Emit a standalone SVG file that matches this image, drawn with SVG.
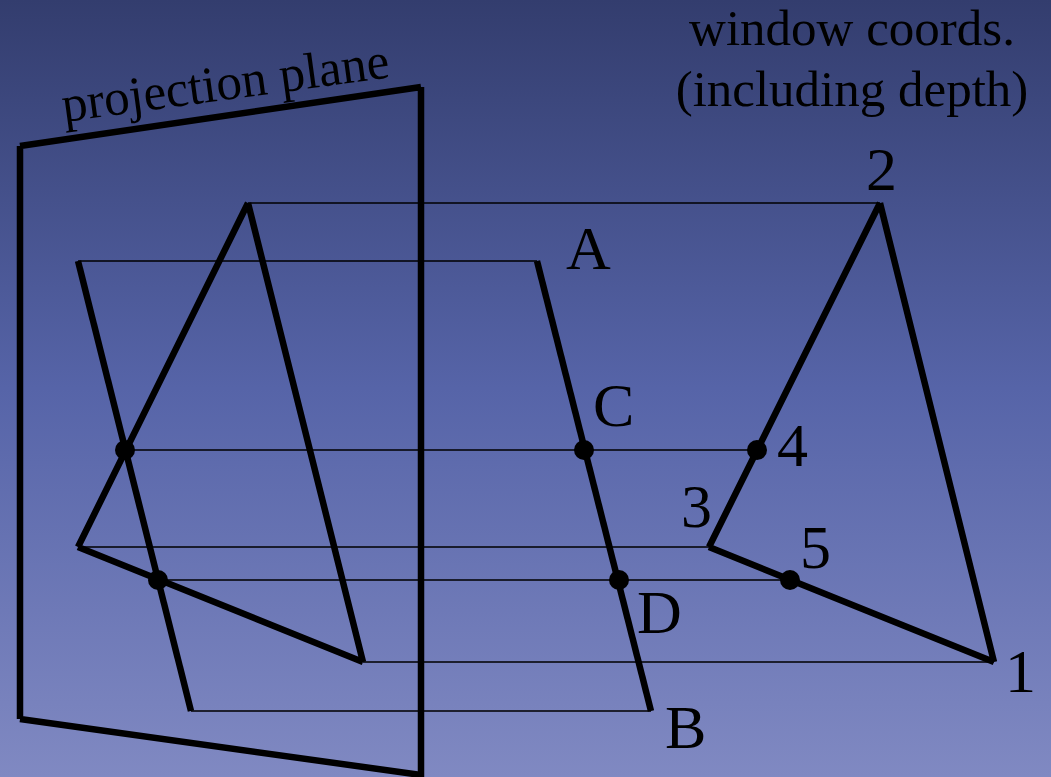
<svg xmlns="http://www.w3.org/2000/svg" width="1051" height="777" viewBox="0 0 1051 777">
<style>
.t{font-family:"Liberation Serif","Times New Roman",serif;font-size:62px;fill:#000}
.h{font-size:51px}
.thick{fill:none;stroke:#000;stroke-width:6.500px;stroke-linecap:butt}
.thin{fill:none;stroke:#000;stroke-width:1.5px}
</style>
<defs><linearGradient id="bg" x1="0" y1="0" x2="0" y2="1"><stop offset="0" stop-color="#333d6e"/><stop offset="0.5" stop-color="#5664a8"/><stop offset="1" stop-color="#8089c2"/></linearGradient></defs>
<rect width="1051" height="777" fill="url(#bg)"/>
<g id="connectors">
<path class="thin" d="M248 203H880M78 261H537M125 450H757M78 547H709M158 580H790M363 662H994M191 711H651"/>
</g>
<g id="plane"><path class="thick" d="M20 146L421 87M421 87V777M421 775L20 719M20 719V146"/></g>
<g id="proj-tri"><path class="thick" d="M248 203L78 547M78 547L363 662M363 662L248 203"/></g>
<g id="proj-line"><path class="thick" d="M78 261L191 711"/></g>
<g id="window-tri"><path class="thick" d="M880 203L709 547M709 547L994 662M994 662L880 203"/></g>
<g id="window-line"><path class="thick" d="M537 261L651 711"/></g>
<g id="dots">
<circle cx="125" cy="450" r="10"/><circle cx="158" cy="580" r="10"/><circle cx="584" cy="450" r="10"/><circle cx="619" cy="580" r="10"/><circle cx="757" cy="450" r="10"/><circle cx="790" cy="580" r="10"/>
</g>
<g id="labels">
<text class="t h" x="852" y="45" text-anchor="middle">window coords.</text>
<text class="t h" x="852" y="106" text-anchor="middle">(including depth)</text>
<text class="t h" transform="translate(64 122) rotate(-7.800)">projection plane</text>
<text class="t" x="566" y="269">A</text><text class="t" x="665" y="748">B</text><text class="t" x="593" y="426">C</text><text class="t" x="637" y="633">D</text>
<text class="t" x="1005" y="692">1</text><text class="t" x="866" y="190">2</text><text class="t" x="681" y="527">3</text><text class="t" x="777" y="466">4</text><text class="t" x="800" y="568">5</text>
</g>
</svg>
